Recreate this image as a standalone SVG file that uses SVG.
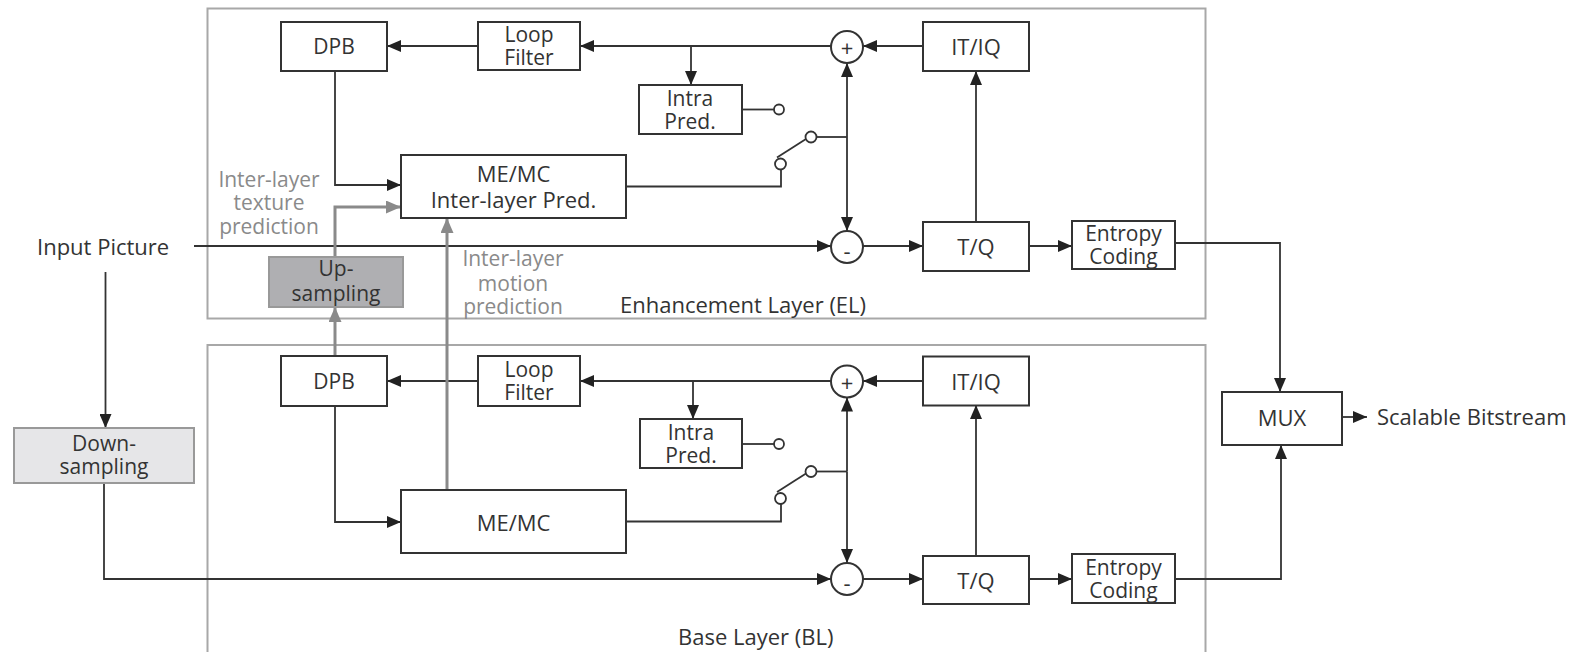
<svg xmlns="http://www.w3.org/2000/svg" width="1581" height="652" viewBox="0 0 1581 652">
<style>
text{font-family:"Open Sans","DejaVu Sans",sans-serif;font-size:21px;fill:#333;text-anchor:middle;dominant-baseline:central}
.lbl{font-size:22px}
.g{fill:#8a8a8a;font-size:21px}
.st{text-anchor:start}
.frame{fill:none;stroke:#a8a8a8;stroke-width:2}
.box{fill:#fff;stroke:#333;stroke-width:2}
.c{fill:none;stroke:#333;stroke-width:1.8}
.cg{fill:none;stroke:#8a8a8a;stroke-width:3}
.sw{fill:#fff;stroke:#333;stroke-width:1.8}
</style>
<defs>
<marker id="a" markerWidth="14" markerHeight="12" refX="14" refY="6" orient="auto" markerUnits="userSpaceOnUse"><path d="M0,0 L14,6 L0,12 z" fill="#222"/></marker>
<marker id="ag" markerWidth="15" markerHeight="13" refX="15" refY="6.5" orient="auto" markerUnits="userSpaceOnUse"><path d="M0,0 L15,6.5 L0,13 z" fill="#8a8a8a"/></marker>
</defs>
<rect width="1581" height="652" fill="#fff"/>
<g id="frames">
<rect id="el-frame" class="frame" x="207.5" y="8.5" width="998" height="310"/>
<rect id="bl-frame" class="frame" x="207.5" y="345" width="998" height="320"/>
<text class="lbl st" x="620" y="304">Enhancement Layer (EL)</text>
<text class="lbl st" x="678" y="636">Base Layer (BL)</text>
</g>
<g id="connectors">
<!-- EL -->
<path class="c" d="M478,46 H387" marker-end="url(#a)"/>
<path class="c" d="M831,46 H580" marker-end="url(#a)"/>
<path class="c" d="M691,46 V85" marker-end="url(#a)"/>
<path class="c" d="M923,46 H863" marker-end="url(#a)"/>
<path class="c" d="M742,109.5 H774"/>
<path class="c" d="M777,157.5 L806,139"/>
<path class="c" d="M816.5,137 H847"/>
<path class="c" d="M847,137 V63" marker-end="url(#a)"/>
<path class="c" d="M847,137 V231" marker-end="url(#a)"/>
<path class="c" d="M781,169 V186.5 H626"/>
<path class="c" d="M335,71 V185 H401" marker-end="url(#a)"/>
<path class="c" d="M194,246 H831" marker-end="url(#a)"/>
<path class="c" d="M863,246 H923" marker-end="url(#a)"/>
<path class="c" d="M976,222 V71" marker-end="url(#a)"/>
<path class="c" d="M1029,246 H1072" marker-end="url(#a)"/>
<path class="c" d="M1175,243 H1280 V392" marker-end="url(#a)"/>
<!-- BL -->
<path class="c" d="M478,381 H387" marker-end="url(#a)"/>
<path class="c" d="M831,381 H580" marker-end="url(#a)"/>
<path class="c" d="M693,381 V419" marker-end="url(#a)"/>
<path class="c" d="M923,381 H863" marker-end="url(#a)"/>
<path class="c" d="M742,444 H774"/>
<path class="c" d="M777,492 L806,473.5"/>
<path class="c" d="M816.5,471.5 H847"/>
<path class="c" d="M847,471.5 V397.5" marker-end="url(#a)"/>
<path class="c" d="M847,471.5 V563" marker-end="url(#a)"/>
<path class="c" d="M781,504 V521.5 H626"/>
<path class="c" d="M335,406 V522 H401" marker-end="url(#a)"/>
<path class="c" d="M104,483 V579 H831" marker-end="url(#a)"/>
<path class="c" d="M863,579 H923" marker-end="url(#a)"/>
<path class="c" d="M976,556 V405" marker-end="url(#a)"/>
<path class="c" d="M1029,579 H1072" marker-end="url(#a)"/>
<path class="c" d="M1175,579 H1281 V445" marker-end="url(#a)"/>
<!-- misc -->
<path class="c" d="M105.5,272 V428" marker-end="url(#a)"/>
<path class="c" d="M1342,417 H1367" marker-end="url(#a)"/>
<!-- inter-layer (gray) -->
<path class="cg" d="M335,356 V307" marker-end="url(#ag)"/>
<path class="cg" d="M335,257 V207 H401" marker-end="url(#ag)"/>
<path class="cg" d="M447,490 V218" marker-end="url(#ag)"/>
</g>
<g id="switch-el">
<circle class="sw" cx="779" cy="109.5" r="5"/>
<circle class="sw" cx="811" cy="137" r="5.5"/>
<circle class="sw" cx="780.5" cy="164" r="5.5"/>
</g>
<g id="switch-bl">
<circle class="sw" cx="779" cy="444" r="5"/>
<circle class="sw" cx="811" cy="471.5" r="5.5"/>
<circle class="sw" cx="780.5" cy="498.5" r="5.5"/>
</g>
<g id="el-dpb"><rect class="box" x="281" y="22" width="106" height="49"/><text x="334" y="46">DPB</text></g>
<g id="el-loop"><rect class="box" x="478" y="22" width="102" height="48"/><text x="529" y="34">Loop</text><text x="529" y="57">Filter</text></g>
<g id="el-intra"><rect class="box" x="639" y="85" width="103" height="49"/><text x="690" y="98">Intra</text><text x="690" y="121">Pred.</text></g>
<g id="el-memc"><rect class="box" x="401" y="155" width="225" height="63"/><text class="lbl" x="513.5" y="173">ME/MC</text><text class="lbl" x="513.5" y="199">Inter-layer Pred.</text></g>
<g id="el-plus"><circle class="box" cx="847" cy="47" r="16"/><text class="lbl" x="847" y="47">+</text></g>
<g id="el-minus"><circle class="box" cx="847" cy="247" r="16"/><text class="lbl" x="847" y="250">-</text></g>
<g id="el-itiq"><rect class="box" x="923" y="22" width="106" height="49"/><text class="lbl" x="976" y="46">IT/IQ</text></g>
<g id="el-tq"><rect class="box" x="923" y="222" width="106" height="49"/><text class="lbl" x="976" y="246">T/Q</text></g>
<g id="el-entropy"><rect class="box" x="1072" y="221" width="103" height="48"/><text x="1123.5" y="233">Entropy</text><text x="1123.5" y="256">Coding</text></g>
<g id="bl-dpb"><rect class="box" x="281" y="356" width="106" height="50"/><text x="334" y="381">DPB</text></g>
<g id="bl-loop"><rect class="box" x="478" y="356" width="102" height="50"/><text x="529" y="369">Loop</text><text x="529" y="392">Filter</text></g>
<g id="bl-intra"><rect class="box" x="640" y="419" width="102" height="49"/><text x="691" y="432">Intra</text><text x="691" y="455">Pred.</text></g>
<g id="bl-memc"><rect class="box" x="401" y="490" width="225" height="63"/><text class="lbl" x="513.5" y="521.5">ME/MC</text></g>
<g id="bl-plus"><circle class="box" cx="847" cy="381.5" r="16"/><text class="lbl" x="847" y="381.5">+</text></g>
<g id="bl-minus"><circle class="box" cx="847" cy="579" r="16"/><text class="lbl" x="847" y="582">-</text></g>
<g id="bl-itiq"><rect class="box" x="923" y="356.5" width="106" height="49"/><text class="lbl" x="976" y="381">IT/IQ</text></g>
<g id="bl-tq"><rect class="box" x="923" y="556" width="106" height="48"/><text class="lbl" x="976" y="580">T/Q</text></g>
<g id="bl-entropy"><rect class="box" x="1072" y="554" width="103" height="49"/><text x="1123.5" y="567">Entropy</text><text x="1123.5" y="590">Coding</text></g>
<g id="upsampling"><rect x="269" y="257" width="134" height="50" fill="#afafb2" stroke="#999" stroke-width="2"/><text x="336" y="268">Up-</text><text x="336" y="293">sampling</text></g>
<g id="downsampling"><rect x="14" y="428" width="180" height="55" fill="#e6e6e8" stroke="#999" stroke-width="2"/><text x="104" y="443">Down-</text><text x="104" y="466">sampling</text></g>
<g id="mux"><rect class="box" x="1222" y="392" width="120" height="53"/><text class="lbl" x="1282" y="417">MUX</text></g>
<g id="labels">
<text class="lbl st" x="37" y="246">Input Picture</text>
<text class="lbl st" x="1377" y="416">Scalable Bitstream</text>
<text class="g" x="269" y="179">Inter-layer</text>
<text class="g" x="269" y="202">texture</text>
<text class="g" x="269" y="226">prediction</text>
<text class="g" x="513" y="258">Inter-layer</text>
<text class="g" x="513" y="283">motion</text>
<text class="g" x="513" y="306">prediction</text>
</g>
</svg>
